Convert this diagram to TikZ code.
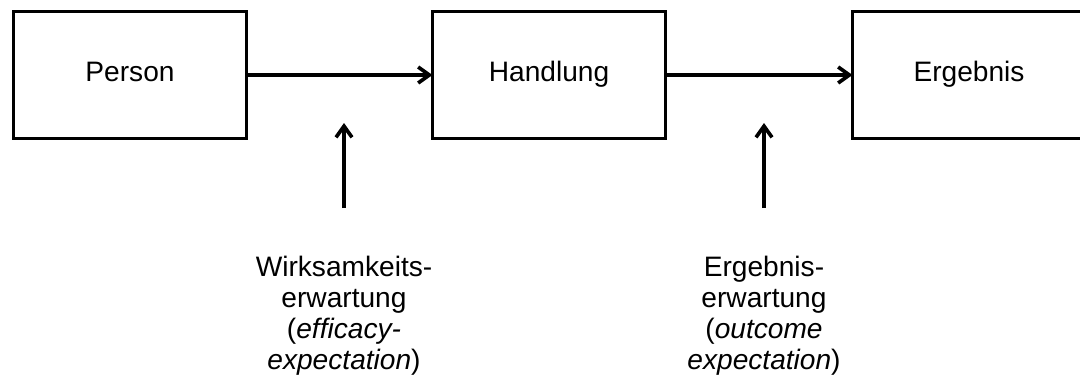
\documentclass[tikz,border=0pt]{standalone}
\usepackage{fontspec}
\setmainfont{Liberation Sans}
\usetikzlibrary{arrows.meta, positioning}

\tikzset{
    box/.style={draw, line width=2.6pt, minimum width=5.825cm, minimum height=3.175cm,
        outer sep=0pt, text height=1.1em, text depth=0.22em, font=\fontsize{20}{22}\selectfont},
    expect/.style={align=center, inner sep=0pt, anchor=north, font=\fontsize{20}{22}\selectfont},
    link/.style={line width=2.6pt, -{Straight Barb[length=0.28cm,width=0.4cm]}}
}

\begin{document}
\begin{tikzpicture}
        \useasboundingbox (0,0) rectangle (27,-9.575);
        % Kette Person -> Handlung -> Ergebnis
        \node[box] (person) at (3.25,-1.875) {Person};
        \node[box, right=4.65cm of person] (handlung) {Handlung};
        \node[box, right=4.675cm of handlung] (ergebnis) {Ergebnis};
        \draw[link] (person) -- (handlung);
        \draw[link] (handlung) -- (ergebnis);
        % Erwartungen
        \node[expect] (wirk) at (8.6,-6.4) {Wirksamkeits-\\erwartung\\(\textit{efficacy-}\\\textit{expectation})};
        \node[expect] (ergerw) at (19.1,-6.4) {Ergebnis-\\erwartung\\(\textit{outcome}\\\textit{expectation})};
        \coordinate (wtail) at (8.6,-5.2);
        \coordinate (whead) at (8.6,-3.075);
        \coordinate (etail) at (19.1,-5.2);
        \coordinate (ehead) at (19.1,-3.075);
        \draw[link] (wtail) -- (whead);
        \draw[link] (etail) -- (ehead);
\end{tikzpicture}
\end{document}
